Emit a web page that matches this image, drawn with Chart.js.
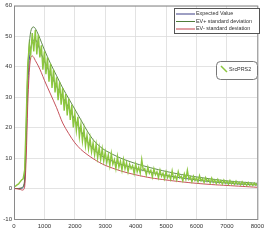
<!DOCTYPE html>
<html>
<head>
<meta charset="utf-8">
<script src="https://cdn.jsdelivr.net/npm/chart.js@4.4.1/dist/chart.umd.min.js"></script>
<style>
  body { margin: 0; background: #fff; }
  #wrap { width: 268px; height: 241px; }
</style>
</head>
<body>
<div id="wrap"><canvas id="c" width="268" height="241"></canvas></div>
<script>
// curves (x in time units, y values)
const curveX = [0,100,200,300,350,400,450,500,550,600,650,700,800,900,1000,1200,1400,1600,1800,2000,2200,2400,2600,2800,3000,3500,4000,4500,5000,5500,6000,6500,7000,7500,8000];
const expected = [0,0,0,0.3,2,15,32,42,46,48,48.8,49,47,44,41.8,37.5,33.5,30,26.5,22.5,19,15.5,13,11.3,10,8,6.6,5.3,4.3,3.5,2.8,2.2,1.8,1.4,1.2];
const upperSD = [0,0,0.1,0.6,3,20,38,47,51.5,52.8,53,52.5,50.5,48,45.5,41,37,33,29.5,26,22.5,19,16,14,12.5,10,8.2,6.8,5.6,4.6,3.8,3.1,2.5,2.1,1.7];
const lowerSD = [0,-0.1,-0.3,-0.5,0.5,10,27,38,43,43.5,43,42,40.2,38,35.5,31,26.5,21.5,18,15,12.8,11.2,9.8,8.6,7.6,5.8,4.5,3.5,2.8,2.2,1.7,1.3,1,0.7,0.4];

// measured series, one sample every 50 units from 0 to 8000
const srcStep = 50;
const srcPRS2 = [
  0.5,0.8,1.2,1.5,2.2,2.8,3.2,6,22,40,47,44,51,45,52,44,50.5,43,47,39,
  45,37.5,43,35,41,33,39,31.5,36.5,29,35,27.5,33,25.5,31,24,29.5,22.5,27.5,20,
  24.5,19,23.5,17,21,15.5,19.5,14,17.5,13,16.5,12,15,11,14.5,10,13.5,9.5,13,9,
  12,8.5,11,7.5,11.5,8,9.5,6.5,10.5,7,9,6,9.5,6.5,8.5,5.5,8,6.5,7.5,5,
  8,5.5,7,5,9.5,6,6.5,4.5,7,5,6,3.8,6.5,4.5,5.5,3.5,6,4,5,3.2,
  5.5,3.5,4.5,3,5.8,3.2,4.2,2.8,5.5,3.5,4,2.5,4.8,3,6,3,3.8,2.2,4,2.6,
  3.5,2.2,4.2,2.5,3.2,2,3.6,2.3,3,1.8,3.4,2,2.8,1.6,3,1.8,2.6,1.5,2.8,1.7,
  2.4,1.4,2.6,1.5,2.2,1.3,2.4,1.4,2,1.2,2.2,1.2,1.9,1,2,1.1,1.7,1,1.8,1.1,
  1.5
];

const xTicks = [0,1000,2000,3000,4000,5000,6000,7000,8000];
const yTicks = [-10,0,10,20,30,40,50,60];

const legendItems = [
  ['Expected Value', '#3d3f86'],
  ['EV+ standard deviation', '#4f7d3a'],
  ['EV- standard deviation', '#c0404a']
];

function pts(xs, ys) { return ys.map((y, i) => ({x: xs[i], y: y})); }
const srcPts = srcPRS2.map((y, i) => ({x: i * srcStep, y: y}));

const frame = {
  id: 'frame',
  afterDraw(chart) {
    const {ctx, chartArea: a} = chart;
    ctx.save();
    ctx.strokeStyle = '#8a8a8a';
    ctx.lineWidth = 1;
    ctx.strokeRect(a.left + 0.5, a.top + 0.5, a.right - a.left, a.bottom - a.top);
    // legend 1
    ctx.fillStyle = '#fff';
    ctx.fillRect(174.5, 8.5, 85, 25);
    ctx.strokeStyle = '#555';
    ctx.strokeRect(174.5, 8.5, 85, 25);
    ctx.font = '5.4px "Liberation Sans", Arial, sans-serif';
    ctx.textBaseline = 'middle';
    legendItems.forEach((it, i) => {
      const y = 14 + i * 7.5;
      ctx.strokeStyle = it[1];
      ctx.beginPath(); ctx.moveTo(176, y); ctx.lineTo(195, y); ctx.stroke();
      ctx.fillStyle = '#333';
      ctx.fillText(it[0], 196, y);
    });
    // legend 2 (rounded)
    ctx.beginPath();
    ctx.roundRect(216.5, 61.5, 41, 18, 4);
    ctx.fillStyle = '#fff'; ctx.fill();
    ctx.strokeStyle = '#777'; ctx.stroke();
    ctx.strokeStyle = '#8cc63f'; ctx.lineWidth = 1.5;
    ctx.beginPath(); ctx.moveTo(221, 66); ctx.lineTo(227, 72); ctx.stroke();
    ctx.fillStyle = '#333';
    ctx.fillText('SrcPRS2', 229, 70);
    ctx.restore();
  }
};

new Chart(document.getElementById('c'), {
  type: 'line',
  data: {
    datasets: [
      {label: 'SrcPRS2', data: srcPts, borderColor: '#8cc63f', borderWidth: 1.4, pointRadius: 0, tension: 0},
      {label: 'EV- standard deviation', data: pts(curveX, lowerSD), borderColor: '#c0404a', borderWidth: 0.9, pointRadius: 0, tension: 0.3},
      {label: 'EV+ standard deviation', data: pts(curveX, upperSD), borderColor: '#4f7d3a', borderWidth: 0.9, pointRadius: 0, tension: 0.3},
      {label: 'Expected Value', data: pts(curveX, expected), borderColor: '#3d3f86', borderWidth: 0.9, pointRadius: 0, tension: 0.3}
    ]
  },
  options: {
    responsive: false,
    animation: false,
    layout: {padding: {top: 4, right: 7, left: 0, bottom: 0}},
    plugins: {legend: {display: false}, tooltip: {enabled: false}},
    scales: {
      x: {
        type: 'linear', min: 0, max: 8000,
        afterFit: s => { s.height = 22; },
        afterBuildTicks: s => { s.ticks = xTicks.map(v => ({value: v})); },
        grid: {color: '#dcdcdc', lineWidth: 0.8, drawTicks: false},
        border: {display: false},
        ticks: {color: '#333', font: {size: 6, family: '"Liberation Sans", Arial'}, padding: 4, maxRotation: 0, callback: v => String(v)}
      },
      y: {
        min: -10, max: 60,
        afterFit: s => { s.width = 14; },
        afterBuildTicks: s => { s.ticks = yTicks.map(v => ({value: v})); },
        grid: {color: '#dcdcdc', lineWidth: 0.8, drawTicks: false},
        border: {display: false},
        ticks: {color: '#333', font: {size: 6, family: '"Liberation Sans", Arial'}, padding: 2, callback: v => String(v)}
      }
    }
  },
  plugins: [frame]
});
</script>
</body>
</html>
